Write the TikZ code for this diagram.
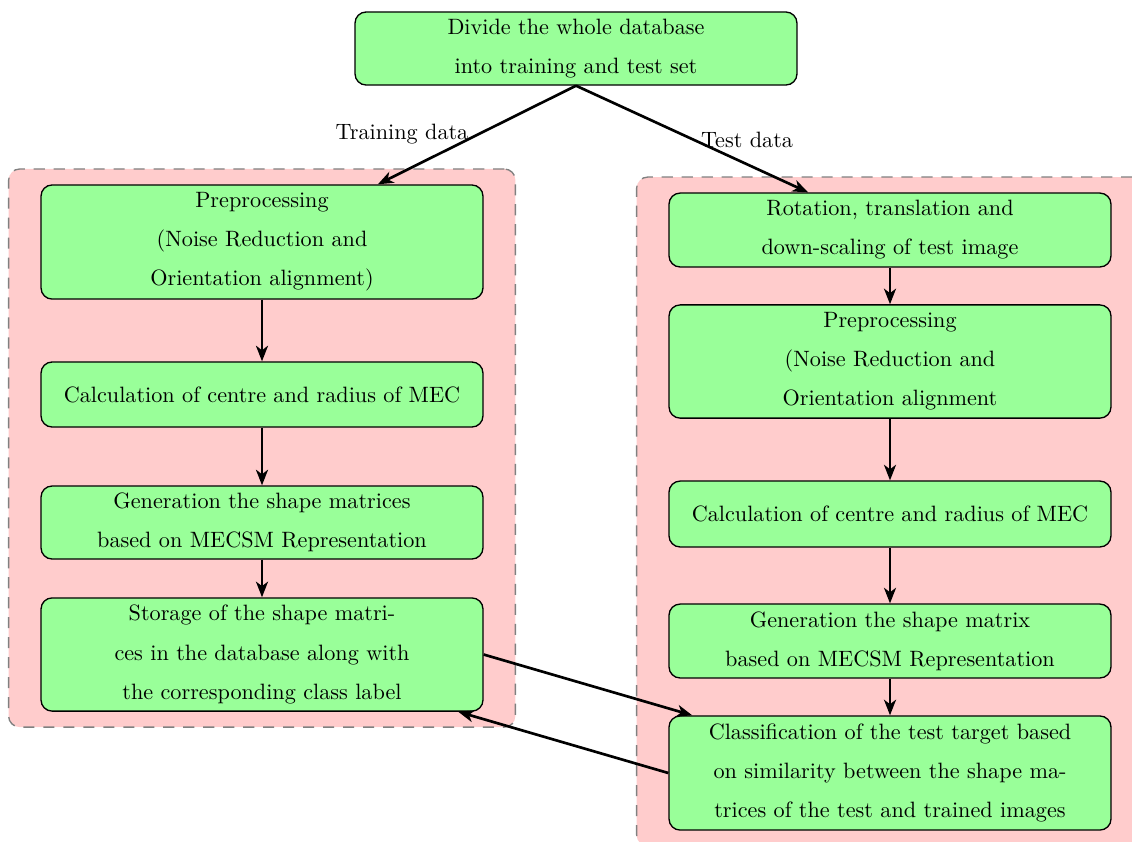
\documentclass[tikz,border=0pt]{standalone}
\usepackage{fontspec}
\usetikzlibrary{arrows.meta,fit,backgrounds}
\tikzset{
  box/.style={draw=black, semithick, fill=green!40, rounded corners=5pt, align=center,
    minimum width=199.1pt, inner sep=2pt, font=\fontsize{10}{17.6}\selectfont},
  cluster/.style={draw=gray, semithick, dash pattern=on 5pt off 4pt, fill=red!20,
    rounded corners=5pt, inner xsep=14.3pt, inner ysep=6.9pt},
  flow/.style={very thick, -{Stealth[length=7pt,width=5.4pt,inset=2pt]}},
  lbl/.style={font=\fontsize{10}{12}\selectfont}
}
\begin{document}
\begin{tikzpicture}[x=0.4505pt,y=-0.4505pt]
\useasboundingbox (0,0) rectangle (1132,841);
% top
\node[box, minimum height=32.9pt] (top) at (576,48.5) {Divide the whole database\\into training and test set};
% left column
\node[box, minimum height=51.4pt] (L1) at (262,242) {Preprocessing\\(Noise Reduction and\\Orientation alignment)};
\node[box, minimum height=29.3pt] (L2) at (262,394.5) {Calculation of centre and radius of MEC};
\node[box, minimum height=32.9pt] (L3) at (262,522.5) {Generation the shape matrices\\based on MECSM Representation};
\node[box, minimum height=51.0pt] (L4) at (262,654.5) {Storage of the shape matri-\\ces in the database along with\\the corresponding class label};
% right column
\node[box, minimum height=33.3pt] (R1) at (890,230) {Rotation, translation and\\down-scaling of test image};
\node[box, minimum height=51.0pt] (R2) at (890,361.5) {Preprocessing\\(Noise Reduction and\\Orientation alignment};
\node[box, minimum height=29.7pt] (R3) at (890,514) {Calculation of centre and radius of MEC};
\node[box, minimum height=33.3pt] (R4) at (890,641) {Generation the shape matrix\\based on MECSM Representation};
\node[box, minimum height=51.4pt] (R5) at (890,773) {Classification of the test target based\\on similarity between the shape ma-\\trices of the test and trained images};
% clusters
\begin{scope}[on background layer]
\node[cluster, fit=(L1)(L4)] (CL) {};
\node[cluster, fit=(R1)(R5)] (CR) {};
\end{scope}
% labels
\node[lbl] (tl) at (402,134) {Training data};
\node[lbl] (tt) at (747,140) {Test data};
% connectors
\draw[flow] (top.south) -- (L1);
\draw[flow] (top.south) -- (R1);
\draw[flow] (L1) -- (L2);
\draw[flow] (L2) -- (L3);
\draw[flow] (L3) -- (L4);
\draw[flow] (R1) -- (R2);
\draw[flow] (R2) -- (R3);
\draw[flow] (R3) -- (R4);
\draw[flow] (R4) -- (R5);
\draw[flow] (L4.east) -- (R5);
\draw[flow] (R5.west) -- (L4);
\end{tikzpicture}
\end{document}
